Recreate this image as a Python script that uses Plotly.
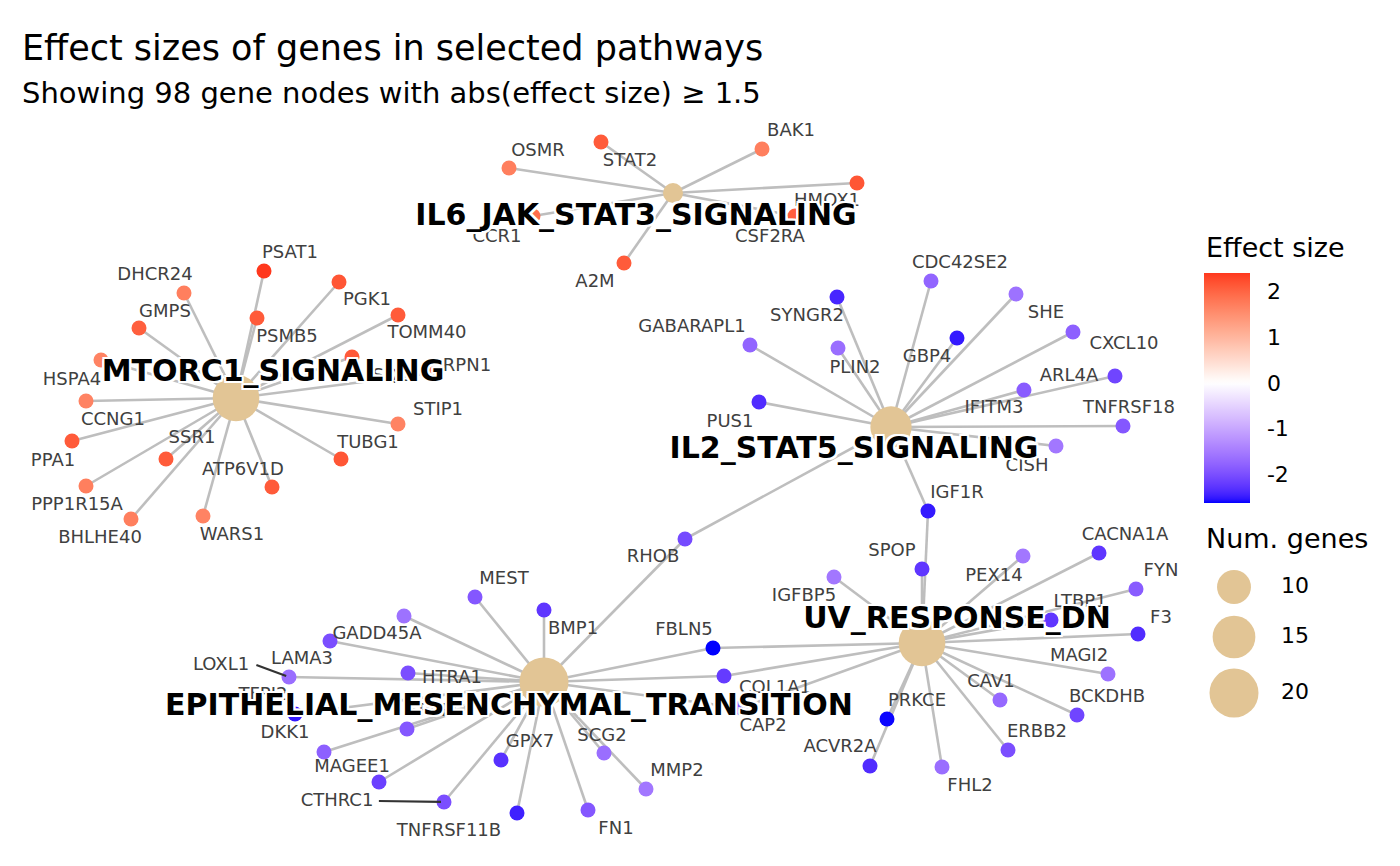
import numpy as np
import plotly.graph_objects as go

# ---------------- data ----------------
pathways = ["IL6_JAK_STAT3_SIGNALING", "MTORC1_SIGNALING", "IL2_STAT5_SIGNALING",
            "UV_RESPONSE_DN", "EPITHELIAL_MESENCHYMAL_TRANSITION"]
pathway_x = [673, 236, 891, 922, 544]
pathway_y = [193, 398, 427, 643, 682]
pathway_label_x = [636, 273, 854, 957, 509]
pathway_label_y = [217, 373, 450, 620, 707]

pathway_members = {
    "IL6_JAK_STAT3_SIGNALING": ["OSMR", "STAT2", "BAK1", "HMOX1", "CSF2RA", "CCR1", "A2M"],
    "MTORC1_SIGNALING": ["PSAT1", "DHCR24", "GMPS", "PGK1", "PSMB5", "TOMM40", "HSPA4", "CCNG1",
                         "SQLE", "RPN1", "STIP1", "SSR1", "TUBG1", "ATP6V1D", "PPA1", "PPP1R15A",
                         "BHLHE40", "WARS1"],
    "IL2_STAT5_SIGNALING": ["CDC42SE2", "SYNGR2", "GABARAPL1", "PLIN2", "GBP4", "SHE", "CXCL10",
                            "ARL4A", "IFITM3", "TNFRSF18", "CISH", "PUS1", "IGF1R", "RHOB"],
    "UV_RESPONSE_DN": ["SPOP", "IGFBP5", "PEX14", "CACNA1A", "FYN", "LTBP1", "F3", "MAGI2", "BCKDHB",
                       "CAV1", "ERBB2", "FHL2", "PRKCE", "ACVR2A", "FBLN5", "COL1A1", "CAP2", "IGF1R"],
    "EPITHELIAL_MESENCHYMAL_TRANSITION": ["MEST", "BMP1", "GADD45A", "LAMA3", "LOXL1", "HTRA1", "TFPI2",
                                          "SPARC", "DKK1", "MAGEE1", "CTHRC1", "TNFRSF11B", "GPX7", "SCG2",
                                          "FN1", "MMP2", "FBLN5", "COL1A1", "CAP2", "RHOB"],
}

genes = ["OSMR", "STAT2", "BAK1", "HMOX1", "CSF2RA", "CCR1", "A2M",
         "PSAT1", "DHCR24", "GMPS", "PGK1", "PSMB5", "TOMM40", "HSPA4", "CCNG1", "SQLE", "RPN1",
         "STIP1", "SSR1", "TUBG1", "ATP6V1D", "PPA1", "PPP1R15A", "BHLHE40", "WARS1",
         "CDC42SE2", "SYNGR2", "GABARAPL1", "PLIN2", "GBP4", "SHE", "CXCL10", "ARL4A", "IFITM3",
         "TNFRSF18", "CISH", "PUS1", "IGF1R", "RHOB",
         "SPOP", "IGFBP5", "PEX14", "CACNA1A", "FYN", "LTBP1", "F3", "MAGI2", "BCKDHB", "CAV1",
         "ERBB2", "FHL2", "PRKCE", "ACVR2A", "FBLN5", "COL1A1", "CAP2",
         "MEST", "BMP1", "GADD45A", "LAMA3", "LOXL1", "HTRA1", "TFPI2", "SPARC", "DKK1", "MAGEE1",
         "CTHRC1", "TNFRSF11B", "GPX7", "SCG2", "FN1", "MMP2"]
gene_x = [509, 601, 762, 857, 795, 533, 624,
          264, 184, 139, 339, 257, 398, 101, 86, 352, 433,
          398, 166, 341, 272, 72, 86, 131, 203,
          931, 837, 750, 838, 957, 1016, 1073, 1115, 1024,
          1123, 1056, 759, 928, 685,
          922, 834, 1023, 1099, 1136, 1051, 1138, 1108, 1077, 1000,
          1008, 942, 887, 870, 713, 724, 741,
          475, 544, 404, 330, 289, 408, 295, 407, 324, 379,
          444, 517, 501, 604, 588, 646]
gene_y = [168, 142, 149, 183, 216, 216, 263,
          271, 293, 328, 282, 318, 315, 360, 401, 357, 373,
          424, 459, 459, 487, 441, 486, 519, 516,
          281, 297, 345, 348, 338, 294, 332, 376, 390,
          426, 446, 402, 511, 539,
          569, 577, 556, 553, 589, 620, 634, 674, 715, 700,
          750, 767, 719, 766, 648, 676, 708,
          597, 610, 616, 641, 677, 673, 714, 729, 752, 782,
          802, 813, 760, 753, 810, 789]
gene_effect = [1.70, 2.10, 1.70, 2.15, 2.05, 1.90, 2.10,
               2.40, 1.70, 2.05, 2.15, 2.10, 2.10, 1.65, 1.65, 2.10, 1.85,
               1.65, 2.10, 2.15, 2.10, 2.10, 1.70, 1.70, 1.65,
               -1.75, -2.40, -1.75, -1.65, -2.50, -1.60, -1.80, -2.10, -1.85,
               -1.90, -1.55, -2.35, -2.50, -2.05,
               -2.25, -1.55, -1.55, -2.25, -1.85, -2.25, -2.35, -1.60, -2.10, -1.70,
               -2.00, -1.65, -2.60, -2.35, -2.62, -2.20, -1.90,
               -1.90, -2.25, -1.60, -2.00, -1.65, -2.00, -2.50, -1.90, -1.80, -2.15,
               -2.00, -2.45, -2.30, -1.65, -1.90, -1.55]
gene_label_x = [538, 630, 791, 827, 770, 497, 595,
                290, 155, 165, 367, 287, 427, 72, 113, 396, 467,
                438, 192, 368, 243, 53, 77, 100, 232,
                960, 807, 692, 855, 927, 1046, 1124, 1069, 994,
                1129, 1027, 730, 957, 653,
                892, 804, 994, 1125, 1161, 1080, 1161, 1079, 1107, 991,
                1037, 970, 917, 840, 684, 775, 763,
                504, 573, 377, 302, 221, 452, 263, 436, 285, 352,
                337, 449, 530, 602, 616, 677]
gene_label_y = [151, 161, 131, 201, 237, 237, 282,
                253, 275, 312, 300, 337, 333, 380, 420, 376, 366,
                410, 438, 443, 470, 461, 505, 538, 535,
                263, 316, 327, 368, 357, 313, 344, 376, 408,
                408, 466, 422, 493, 557,
                551, 596, 576, 535, 571, 602, 618, 656, 697, 682,
                732, 786, 701, 747, 630, 688, 726,
                579, 629, 634, 659, 665, 678, 695, 711, 733, 767,
                801, 831, 742, 736, 829, 771]
repel_segment_genes = ["LOXL1", "CTHRC1"]

size_legend_values = [10, 15, 20]
colorbar_tick_values = [-2, -1, 0, 1, 2]
colorbar_tick_text = ["-2", "-1", "0", "1", "2"]

title_text = "Effect sizes of genes in selected pathways"
subtitle_text = "Showing 98 gene nodes with abs(effect size) \u2265 1.5"

# ---------------- colour scale (ggplot gradient2 in Lab) ----------------
def _lin(c):
    return c / 12.92 if c <= 0.04045 else ((c + 0.055) / 1.055) ** 2.4

def _gam(c):
    c = min(max(c, 0.0), 1.0)
    return 12.92 * c if c <= 0.0031308 else 1.055 * c ** (1 / 2.4) - 0.055

WHITE = (0.95047, 1.0, 1.08883)

def hex2lab(h):
    r, g, b = [_lin(int(h[i:i + 2], 16) / 255) for i in (1, 3, 5)]
    X = 0.4124 * r + 0.3576 * g + 0.1805 * b
    Y = 0.2126 * r + 0.7152 * g + 0.0722 * b
    Z = 0.0193 * r + 0.1192 * g + 0.9505 * b
    def f(t):
        return t ** (1 / 3) if t > 0.008856 else 7.787 * t + 16 / 116
    fx, fy, fz = f(X / WHITE[0]), f(Y / WHITE[1]), f(Z / WHITE[2])
    return (116 * fy - 16, 500 * (fx - fy), 200 * (fy - fz))

def lab2rgbstr(L, a, b):
    fy = (L + 16) / 116
    fx = fy + a / 500
    fz = fy - b / 200
    def finv(t):
        return t ** 3 if t ** 3 > 0.008856 else (t - 16 / 116) / 7.787
    X, Y, Z = WHITE[0] * finv(fx), WHITE[1] * finv(fy), WHITE[2] * finv(fz)
    r = 3.2406 * X - 1.5372 * Y - 0.4986 * Z
    g = -0.9689 * X + 1.8758 * Y + 0.0415 * Z
    bb = 0.0557 * X - 0.2040 * Y + 1.0570 * Z
    return "rgb(%d,%d,%d)" % tuple(round(_gam(c) * 255) for c in (r, g, bb))

low, mid, high = hex2lab("#0000FF"), hex2lab("#FFFFFF"), hex2lab("#FF0000")
cmin, cmax = min(gene_effect), max(gene_effect)
maxabs = max(abs(cmin), abs(cmax))

def ramp(t):
    if t <= 0.5:
        f = t / 0.5
        c = [low[i] + (mid[i] - low[i]) * f for i in range(3)]
    else:
        f = (t - 0.5) / 0.5
        c = [mid[i] + (high[i] - mid[i]) * f for i in range(3)]
    return lab2rgbstr(*c)

colorscale = []
for p in np.linspace(0, 1, 61):
    v = cmin + p * (cmax - cmin)
    colorscale.append([float(p), ramp(0.5 + v / (2 * maxabs))])

# size scale (area palette, like ggplot scale_size)
counts = [len(pathway_members[p]) for p in pathways]
nmin, nmax = min(counts), max(counts)
rmin, rmax = 10.0, 24.5

def node_diam(n):
    return 2 * (rmin + (rmax - rmin) * np.sqrt((n - nmin) / (nmax - nmin)))

TAN = "#E2C595"

# ---------------- build figure ----------------
gidx = {g: i for i, g in enumerate(genes)}
pidx = {p: i for i, p in enumerate(pathways)}

ex, ey = [], []
for p in pathways:
    for g in pathway_members[p]:
        i = gidx[g]
        ex += [pathway_x[pidx[p]], gene_x[i], None]
        ey += [pathway_y[pidx[p]], gene_y[i], None]

fig = go.Figure()
fig.add_trace(go.Scatter(x=ex, y=ey, mode="lines", line=dict(color="#BEBEBE", width=2.6),
                         hoverinfo="skip", showlegend=False))

# colourbar geometry (pixels)
cb_left, cb_top, cb_thick, cb_len = 1204, 273, 46, 230
fig.add_trace(go.Scatter(
    x=gene_x, y=gene_y, mode="markers", showlegend=False, text=genes,
    marker=dict(size=15, color=gene_effect, colorscale=colorscale, cmin=cmin, cmax=cmax,
                opacity=1, line=dict(width=0), showscale=True,
                colorbar=dict(x=cb_left / 1400, xanchor="left", xpad=0,
                              y=1 - (cb_top + cb_len / 2) / 866, yanchor="middle", ypad=0,
                              len=cb_len, lenmode="pixels", thickness=cb_thick,
                              outlinewidth=0, tickvals=colorbar_tick_values,
                              ticktext=colorbar_tick_text, ticks="outside", ticklen=13,
                              tickcolor="rgba(0,0,0,0)",
                              tickfont=dict(family="DejaVu Sans", size=22, color="#000000")))))

# repel segments
sx, sy = [], []
for g in repel_segment_genes:
    i = gidx[g]
    x0 = gene_label_x[i] + len(g) * 18 * 0.36 + 3
    y0 = gene_label_y[i]
    dx, dy = gene_x[i] - x0, gene_y[i] - y0
    d = np.hypot(dx, dy)
    sx += [x0, gene_x[i] - dx / d * 3, None]
    sy += [y0, gene_y[i] - dy / d * 3, None]
fig.add_trace(go.Scatter(x=sx, y=sy, mode="lines", line=dict(color="#333333", width=2.2),
                         hoverinfo="skip", showlegend=False))

fig.add_trace(go.Scatter(x=pathway_x, y=pathway_y, mode="markers", showlegend=False,
                         marker=dict(size=[node_diam(n) for n in counts], color=TAN, opacity=1,
                                     line=dict(width=0)), hoverinfo="skip"))

fig.add_trace(go.Scatter(x=gene_label_x, y=gene_label_y, mode="text", text=genes,
                         textposition="middle center", showlegend=False, hoverinfo="skip",
                         textfont=dict(family="DejaVu Sans", size=18, color="#404040")))

halo = ", ".join("%dpx %dpx 0 #ffffff" % (a, b) for a, b in
                 [(-2, -2), (2, -2), (-2, 2), (2, 2), (0, 2), (0, -2), (2, 0), (-2, 0)])
fig.add_trace(go.Scatter(x=pathway_label_x, y=pathway_label_y, mode="text", text=pathways,
                         textposition="middle center", showlegend=False, hoverinfo="skip",
                         textfont=dict(family="DejaVu Sans", size=30, color="#000000",
                                       weight="bold", shadow=halo)))

# size legend
sl_x = [1234, 1234, 1234]
sl_y = [587, 637, 693]
fig.add_trace(go.Scatter(x=sl_x, y=sl_y, mode="markers", showlegend=False, hoverinfo="skip",
                         marker=dict(size=[node_diam(n) for n in size_legend_values],
                                     color=TAN, opacity=1, line=dict(width=0))))
fig.add_trace(go.Scatter(x=[1281] * 3, y=sl_y, mode="text",
                         text=[str(v) for v in size_legend_values], textposition="middle right",
                         showlegend=False, hoverinfo="skip",
                         textfont=dict(family="DejaVu Sans", size=22, color="#000000")))

# white tick marks on the colourbar (both sides)
shapes = []
for v in colorbar_tick_values:
    yy = cb_top + cb_len - (v - cmin) / (cmax - cmin) * cb_len
    for xa, xb in [(cb_left, cb_left + 9), (cb_left + cb_thick - 9, cb_left + cb_thick)]:
        shapes.append(dict(type="line", xref="x", yref="y", x0=xa, x1=xb, y0=yy, y1=yy,
                           line=dict(color="white", width=1.2), layer="above"))

annotations = [
    dict(x=20, y=48, xref="x", yref="y", text=title_text, showarrow=False, xanchor="left",
         yanchor="middle", font=dict(family="DejaVu Sans", size=35, color="#000000")),
    dict(x=20, y=93, xref="x", yref="y", text=subtitle_text, showarrow=False, xanchor="left",
         yanchor="middle", font=dict(family="DejaVu Sans", size=29, color="#000000")),
    dict(x=1204, y=247, xref="x", yref="y", text="Effect size", showarrow=False, xanchor="left",
         yanchor="middle", font=dict(family="DejaVu Sans", size=27, color="#000000")),
    dict(x=1204, y=538, xref="x", yref="y", text="Num. genes", showarrow=False, xanchor="left",
         yanchor="middle", font=dict(family="DejaVu Sans", size=27, color="#000000")),
]

fig.update_layout(
    width=1400, height=866, margin=dict(l=0, r=0, t=0, b=0),
    paper_bgcolor="white", plot_bgcolor="white",
    xaxis=dict(range=[0, 1400], visible=False, fixedrange=True),
    yaxis=dict(range=[866, 0], visible=False, fixedrange=True),
    shapes=shapes, annotations=annotations, hovermode=False,
)

fig.write_html("out.html", config={"displayModeBar": False},
               post_script="document.body.style.margin='0';document.body.style.overflow='hidden';")
